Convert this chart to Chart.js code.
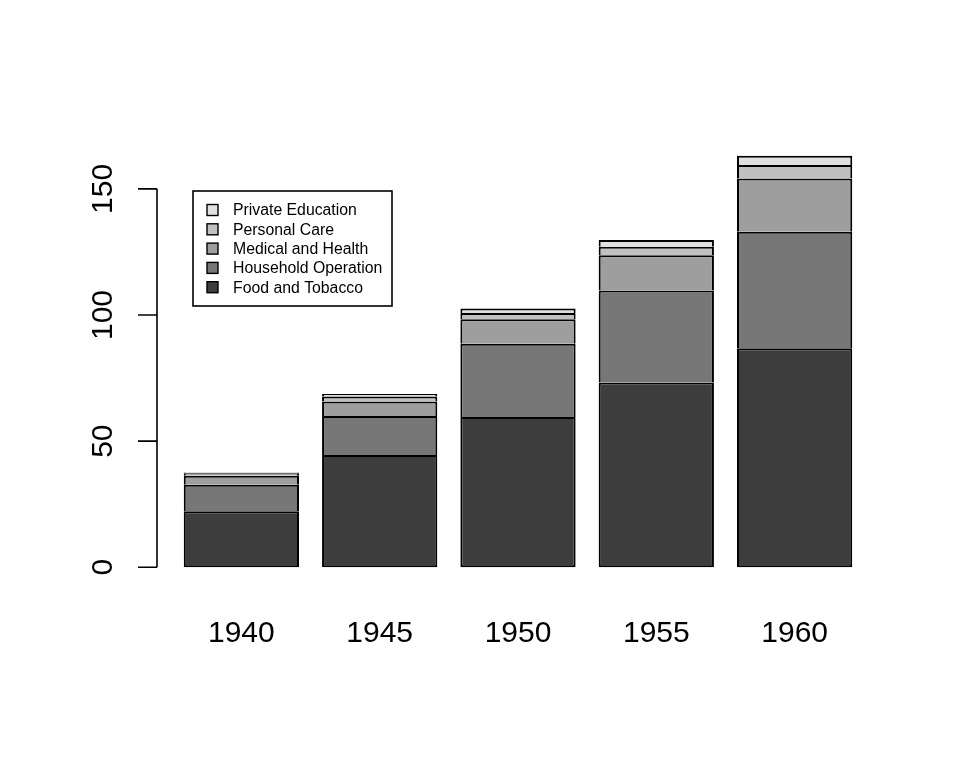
<!DOCTYPE html>
<html>
<head>
<meta charset="utf-8">
<script src="https://cdn.jsdelivr.net/npm/chart.js@4.4.1/dist/chart.umd.min.js"></script>
<style>
  html, body { margin: 0; padding: 0; background: #fff; }
  #wrap { width: 960px; height: 768px; }
</style>
</head>
<body>
<div id="wrap"><canvas id="chart" width="960" height="768"></canvas></div>
<script>
// US personal expenditure, billions of dollars
const years = ['1940', '1945', '1950', '1955', '1960'];
const foodTobacco = [22.2, 44.5, 59.6, 73.2, 86.8];
const householdOp = [10.5, 15.5, 29.0, 36.5, 46.2];
const medicalHealth = [3.53, 5.76, 9.71, 14.0, 21.1];
const personalCare = [1.04, 1.98, 2.45, 3.4, 5.4];
const privateEdu = [0.341, 0.974, 1.8, 2.6, 3.64];
const yTicks = [0, 50, 100, 150];

const seriesNames = ['Food and Tobacco', 'Household Operation', 'Medical and Health', 'Personal Care', 'Private Education'];
const seriesValues = [foodTobacco, householdOp, medicalHealth, personalCare, privateEdu];
const greys = ['#3d3d3d', '#777777', '#9e9e9e', '#c0c0c0', '#e0e0e0'];

const FONT = "'Liberation Sans', Arial, Helvetica, sans-serif";

// bar centres the way R's barplot puts them (width 1, space 0.2)
const centres = years.map((y, i) => 0.7 + 1.2 * i);

const datasets = seriesNames.map((name, k) => ({
  label: name,
  data: seriesValues[k].map((v, i) => ({ x: centres[i], y: v })),
  backgroundColor: greys[k],
  borderColor: '#000',
  borderWidth: 2,
  borderSkipped: k === 0 ? false : 'start',
  categoryPercentage: 1,
  barPercentage: 1 / 1.2,
}));

// R style axis: line only from first to last tick, labels parallel to axis
const rAxis = {
  id: 'rAxis',
  afterDraw(chart) {
    const ctx = chart.ctx;
    const ys = chart.scales.y;
    const x0 = chart.chartArea.left;
    ctx.save();
    ctx.strokeStyle = '#000';
    ctx.lineWidth = 1.6;
    ctx.beginPath();
    ctx.moveTo(x0, ys.getPixelForValue(yTicks[0]));
    ctx.lineTo(x0, ys.getPixelForValue(yTicks[yTicks.length - 1]));
    yTicks.forEach(v => {
      const py = ys.getPixelForValue(v);
      ctx.moveTo(x0 - 19, py);
      ctx.lineTo(x0, py);
    });
    ctx.stroke();
    ctx.fillStyle = '#000';
    ctx.font = '30px ' + FONT;
    ctx.textAlign = 'center';
    ctx.textBaseline = 'alphabetic';
    yTicks.forEach(v => {
      ctx.save();
      ctx.translate(112, ys.getPixelForValue(v));
      ctx.rotate(-Math.PI / 2);
      ctx.fillText(String(v), 0, 0);
      ctx.restore();
    });
    ctx.restore();
  }
};

// legend box in the top left of the plot, top series first
const boxLegend = {
  id: 'boxLegend',
  afterDraw(chart) {
    const ctx = chart.ctx;
    const left = 193, top = 191, w = 199, h = 115, rowH = 19.3;
    ctx.save();
    ctx.strokeStyle = '#000';
    ctx.lineWidth = 1.6;
    ctx.strokeRect(left, top, w, h);
    ctx.font = '15.8px ' + FONT;
    ctx.textAlign = 'left';
    ctx.textBaseline = 'middle';
    for (let r = 0; r < seriesNames.length; r++) {
      const k = seriesNames.length - 1 - r;
      const cy = top + 19 + r * rowH;
      ctx.fillStyle = greys[k];
      ctx.fillRect(207, cy - 5.5, 11, 11);
      ctx.lineWidth = 1.4;
      ctx.strokeRect(207, cy - 5.5, 11, 11);
      ctx.fillStyle = '#000';
      ctx.fillText(seriesNames[k], 233, cy + 1);
    }
    ctx.restore();
  }
};

new Chart(document.getElementById('chart'), {
  type: 'bar',
  data: { datasets: datasets },
  plugins: [rAxis, boxLegend],
  options: {
    responsive: false,
    animation: false,
    devicePixelRatio: 1,
    layout: { padding: { top: 139, right: 81, left: 0, bottom: 0 } },
    plugins: {
      legend: { display: false },
      tooltip: { enabled: false },
    },
    scales: {
      x: {
        type: 'linear',
        stacked: true,
        offset: false,
        min: -0.032,
        max: 6.232,
        grid: { display: false, drawTicks: false },
        border: { display: false },
        afterBuildTicks: axis => { axis.ticks = centres.map(v => ({ value: v })); },
        afterFit: axis => { axis.height = 180; },
        ticks: {
          autoSkip: false,
          maxRotation: 0,
          padding: 28,
          color: '#000',
          font: { family: FONT, size: 30 },
          callback: (value, index) => years[index],
        },
      },
      y: {
        type: 'linear',
        stacked: true,
        min: -8.22,
        max: 169.77,
        grid: { display: false, drawTicks: false },
        border: { display: false },
        afterBuildTicks: axis => { axis.ticks = yTicks.map(v => ({ value: v })); },
        afterFit: axis => { axis.width = 157; },
        ticks: { display: false },
      },
    },
  },
});
</script>
</body>
</html>
